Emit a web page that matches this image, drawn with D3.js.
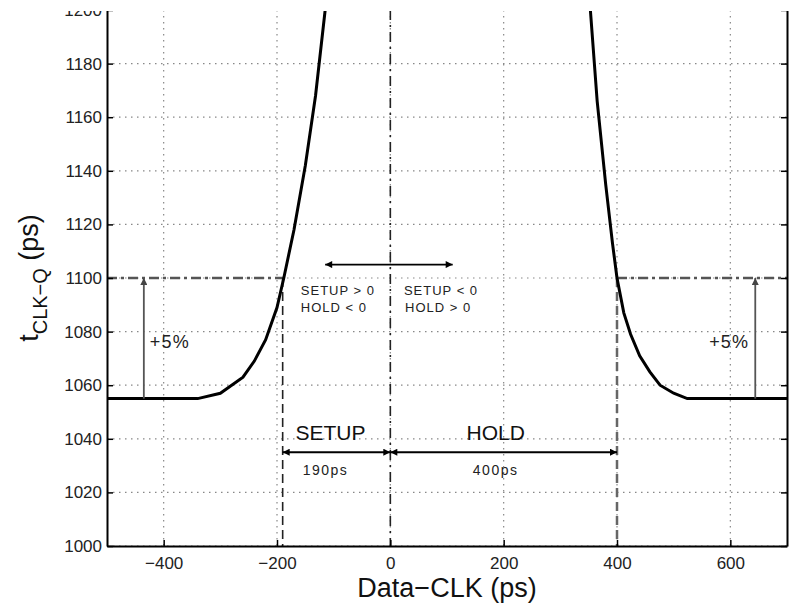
<!DOCTYPE html>
<html>
<head>
<meta charset="utf-8">
<script src="https://cdn.jsdelivr.net/npm/d3@7"></script>
<style>
  body { margin: 0; background: #fff; }
  text { font-family: "Liberation Sans", Arial, sans-serif; }
</style>
</head>
<body>
<div id="chart"></div>
<script>
// Tick values
const xTicks = [-400, -200, 0, 200, 400, 600];
const yTicks = [1000, 1020, 1040, 1060, 1080, 1100, 1120, 1140, 1160, 1180, 1200];

// Left branch of the clk-q delay curve (Data-CLK ps, tclk-q ps)
const leftX = [-500, -340, -300, -260, -240, -220, -200, -188, -170, -150, -132, -115];
const leftY = [1055, 1055, 1057, 1063, 1069, 1077, 1089, 1100, 1118, 1142, 1168, 1200];

// Right branch
const rightX = [353, 365, 380, 392, 400, 412, 424, 440, 458, 476, 500, 524, 700];
const rightY = [1200, 1166, 1135, 1113, 1100, 1087, 1079, 1071, 1065, 1060, 1057, 1055, 1055];

// Reference values
const setupEdge = -190, holdEdge = 400, baseDelay = 1055, limitDelay = 1100;
const pctArrowsX = [-435, 644];

const W = 793, H = 613;
const margin = {top: 10, right: 6, bottom: 67, left: 107};
const width = W - margin.left - margin.right,
      height = H - margin.top - margin.bottom;

const svg = d3.select("#chart").append("svg")
    .attr("width", W).attr("height", H);

const defs = svg.append("defs");
defs.append("clipPath").attr("id", "plotclip")
    .append("rect").attr("width", width).attr("height", height);
function marker(id, color) {
    defs.append("marker").attr("id", id)
        .attr("viewBox", "0 0 10 10").attr("refX", 10).attr("refY", 5)
        .attr("markerWidth", 9).attr("markerHeight", 7)
        .attr("markerUnits", "userSpaceOnUse")
        .attr("orient", "auto-start-reverse")
        .append("path").attr("d", "M0,0 L10,5 L0,10 z").attr("fill", color);
}
marker("arrBlack", "#000");
marker("arrGray", "#444");

const g = svg.append("g").attr("transform", "translate(" + margin.left + "," + margin.top + ")");

const x = d3.scaleLinear().domain([-500, 700]).range([0, width]);
const y = d3.scaleLinear().domain([1000, 1200]).range([height, 0]);

// Dotted grid
g.selectAll(".gx").data(xTicks).enter().append("line")
    .attr("x1", d => x(d)).attr("x2", d => x(d))
    .attr("y1", 0).attr("y2", height)
    .attr("stroke", "#888").attr("stroke-width", 1.2).attr("stroke-dasharray", "1.5,4.5");
g.selectAll(".gy").data(yTicks).enter().append("line")
    .attr("x1", 0).attr("x2", width)
    .attr("y1", d => y(d)).attr("y2", d => y(d))
    .attr("stroke", "#888").attr("stroke-width", 1.2).attr("stroke-dasharray", "1.5,4.5");

// +5% limit line (dash-dot) outside the window
const crossL = -188, crossR = 400;
const dashDot = "10,4,3,4";
g.append("line")
    .attr("x1", x(-500)).attr("x2", x(crossL))
    .attr("y1", y(limitDelay)).attr("y2", y(limitDelay))
    .attr("stroke", "#555").attr("stroke-width", 2.5).attr("stroke-dasharray", dashDot);
g.append("line")
    .attr("x1", x(crossR)).attr("x2", x(700))
    .attr("y1", y(limitDelay)).attr("y2", y(limitDelay))
    .attr("stroke", "#555").attr("stroke-width", 2.5).attr("stroke-dasharray", dashDot);

// Vertical reference lines
g.append("line")
    .attr("x1", x(setupEdge)).attr("x2", x(setupEdge))
    .attr("y1", y(limitDelay)).attr("y2", height)
    .attr("stroke", "#222").attr("stroke-width", 1.6).attr("stroke-dasharray", "9,5");
g.append("line")
    .attr("x1", x(0)).attr("x2", x(0))
    .attr("y1", 0).attr("y2", height)
    .attr("stroke", "#222").attr("stroke-width", 1.6).attr("stroke-dasharray", "10,5,2,5");
g.append("line")
    .attr("x1", x(holdEdge)).attr("x2", x(holdEdge))
    .attr("y1", y(limitDelay)).attr("y2", height)
    .attr("stroke", "#666").attr("stroke-width", 2.5).attr("stroke-dasharray", "9,5");

// Curve
const line = d3.line().x(d => x(d[0])).y(d => y(d[1]));
const curves = g.append("g").attr("clip-path", "url(#plotclip)");
curves.append("path").datum(d3.zip(leftX, leftY))
    .attr("d", line).attr("fill", "none").attr("stroke", "#000").attr("stroke-width", 3);
curves.append("path").datum(d3.zip(rightX, rightY))
    .attr("d", line).attr("fill", "none").attr("stroke", "#000").attr("stroke-width", 3);

// +5% arrows
pctArrowsX.forEach(function(v) {
    g.append("line")
        .attr("x1", x(v)).attr("x2", x(v))
        .attr("y1", y(baseDelay)).attr("y2", y(limitDelay))
        .attr("stroke", "#555").attr("stroke-width", 1.8)
        .attr("marker-end", "url(#arrGray)");
});
g.append("text").attr("x", x(-435) + 6).attr("y", y(1080) + 16)
    .attr("font-size", 18).attr("letter-spacing", 1.2).attr("fill", "#222").text("+5%");
g.append("text").attr("x", x(644) - 6).attr("y", y(1080) + 16)
    .attr("font-size", 18).attr("letter-spacing", 1.2).attr("fill", "#222")
    .attr("text-anchor", "end").text("+5%");

// Horizontal double arrow in the window
g.append("line")
    .attr("x1", x(-115)).attr("x2", x(110))
    .attr("y1", y(1105)).attr("y2", y(1105))
    .attr("stroke", "#000").attr("stroke-width", 1.6)
    .attr("marker-start", "url(#arrBlack)").attr("marker-end", "url(#arrBlack)");

const smallText = [
    {xv: -158, yv: 1100, dy: 17, t: "SETUP > 0"},
    {xv: -158, yv: 1100, dy: 34, t: "HOLD < 0"},
    {xv: 24, yv: 1100, dy: 17, t: "SETUP < 0"},
    {xv: 26, yv: 1100, dy: 34, t: "HOLD > 0"}
];
g.selectAll(".st").data(smallText).enter().append("text")
    .attr("x", d => x(d.xv)).attr("y", d => y(d.yv) + d.dy)
    .attr("font-size", 13).attr("letter-spacing", 1).attr("fill", "#222").text(d => d.t);

// SETUP / HOLD dimension arrows
const dimY = y(1035);
g.append("line")
    .attr("x1", x(setupEdge)).attr("x2", x(0))
    .attr("y1", dimY).attr("y2", dimY)
    .attr("stroke", "#000").attr("stroke-width", 2)
    .attr("marker-start", "url(#arrBlack)").attr("marker-end", "url(#arrBlack)");
g.append("line")
    .attr("x1", x(0)).attr("x2", x(holdEdge))
    .attr("y1", dimY).attr("y2", dimY)
    .attr("stroke", "#000").attr("stroke-width", 2)
    .attr("marker-start", "url(#arrBlack)").attr("marker-end", "url(#arrBlack)");
g.append("text").attr("x", x(setupEdge / 2) - 6).attr("y", dimY - 12)
    .attr("text-anchor", "middle").attr("font-size", 21).attr("fill", "#111").text("SETUP");
g.append("text").attr("x", x(holdEdge / 2) - 8).attr("y", dimY - 12)
    .attr("text-anchor", "middle").attr("font-size", 21).attr("fill", "#111").text("HOLD");
g.append("text").attr("x", x(setupEdge / 2) - 11).attr("y", dimY + 23)
    .attr("text-anchor", "middle").attr("font-size", 14).attr("letter-spacing", 1.5)
    .attr("fill", "#222").text("190ps");
g.append("text").attr("x", x(holdEdge / 2) - 8).attr("y", dimY + 23)
    .attr("text-anchor", "middle").attr("font-size", 14).attr("letter-spacing", 1.5)
    .attr("fill", "#222").text("400ps");

// Axes (inward ticks, box)
const fmtX = d => (d < 0 ? "\u2212" + Math.abs(d) : String(d));
const fmtY = d3.format("d");
const xAxis = g.append("g").attr("transform", "translate(0," + height + ")")
    .call(d3.axisBottom(x).tickValues(xTicks).tickSizeInner(-6).tickSizeOuter(0).tickPadding(11).tickFormat(fmtX));
const yAxis = g.append("g")
    .call(d3.axisLeft(y).tickValues(yTicks).tickSizeInner(-6).tickSizeOuter(0).tickPadding(5).tickFormat(fmtY));
const yAxisR = g.append("g").attr("transform", "translate(" + width + ",0)")
    .call(d3.axisRight(y).tickValues(yTicks).tickSizeInner(-6).tickSizeOuter(0).tickFormat(""));
[xAxis, yAxis, yAxisR].forEach(function(a) {
    a.select(".domain").attr("stroke", "#000").attr("stroke-width", 2);
    a.selectAll(".tick line").attr("stroke", "#000").attr("stroke-width", 1.5);
    a.selectAll("text").attr("font-size", 17).attr("fill", "#222")
        .attr("font-family", "'Liberation Sans', Arial, sans-serif");
});

// Axis labels
svg.append("text")
    .attr("x", 447).attr("y", 597)
    .attr("text-anchor", "middle").attr("font-size", 27).attr("fill", "#111")
    .text("Data\u2212CLK (ps)");
const yl = svg.append("text")
    .attr("transform", "translate(38,278) rotate(-90)")
    .attr("text-anchor", "middle").attr("font-size", 27).attr("fill", "#111");
yl.append("tspan").text("t");
yl.append("tspan").attr("font-size", 20).attr("dy", 9).text("CLK\u2212Q");
yl.append("tspan").attr("dy", -9).text(" (ps)");

// Top of the figure is cropped
svg.append("rect").attr("x", 0).attr("y", 0).attr("width", W).attr("height", 11).attr("fill", "#fff");
</script>
</body>
</html>
